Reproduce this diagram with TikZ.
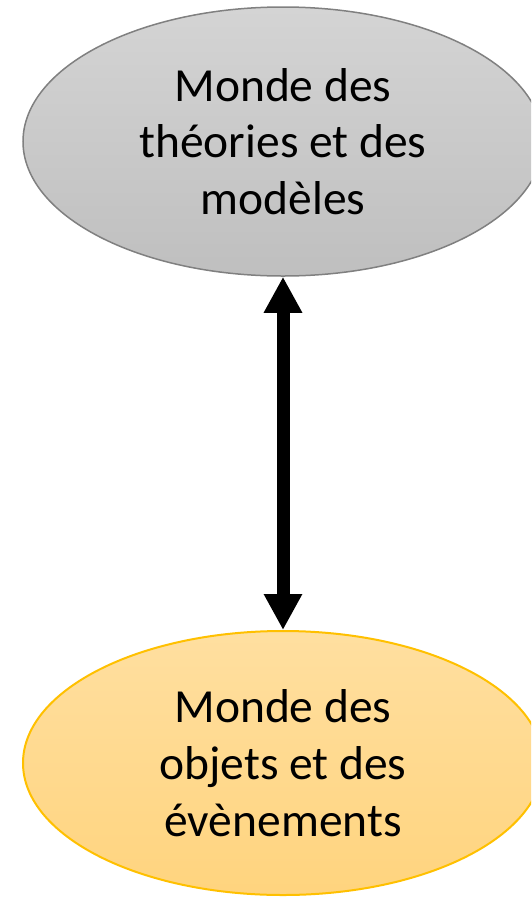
\documentclass[tikz,border=0pt]{standalone}
\usepackage{fontspec}
\setmainfont{Carlito}
\usetikzlibrary{shapes.geometric,arrows.meta}
\definecolor{grayTop}{RGB}{212,212,212}
\definecolor{grayBot}{RGB}{191,191,191}
\definecolor{grayLine}{RGB}{128,128,128}
\definecolor{goldTop}{RGB}{255,223,160}
\definecolor{goldBot}{RGB}{255,212,126}
\definecolor{goldLine}{RGB}{255,192,0}
\tikzset{
  world/.style={ellipse, inner sep=0pt, minimum width=520pt, align=center,
    font=\fontsize{47.5}{56.7}\selectfont, text=black},
  theory/.style={world, minimum height=269pt, draw=grayLine, line width=1.5pt,
    top color=grayTop, bottom color=grayBot},
  objects/.style={world, minimum height=264pt, draw=goldLine, line width=2pt,
    top color=goldTop, bottom color=goldBot},
  link/.style={line width=13pt, {Triangle[width=36pt,length=36pt]}-{Triangle[width=36pt,length=36pt]}}
}
\begin{document}
\begin{tikzpicture}[x=1pt,y=1pt]
\useasboundingbox (0,0) rectangle (531,-898);
\clip (0,0) rectangle (531,-898);
\node[theory] (top) at (283,-141.5) {Monde des\\théories et des\\modèles};
\node[objects] (bot) at (283,-763) {Monde des\\objets et des\\évènements};
\draw[link] (top.south) -- (bot.north);
\end{tikzpicture}
\end{document}
